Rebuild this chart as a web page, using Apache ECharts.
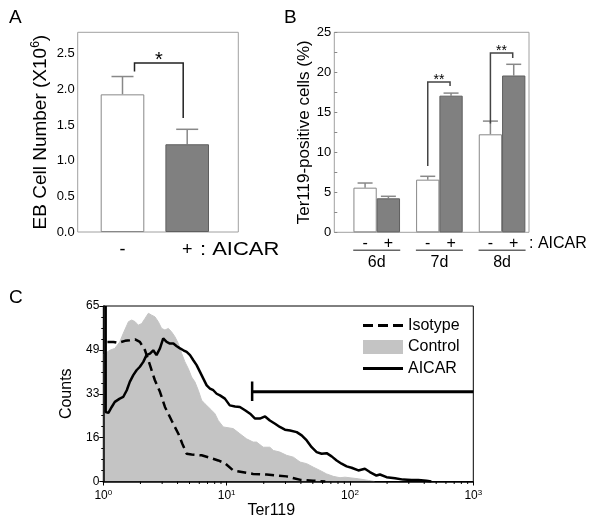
<!DOCTYPE html>
<html>
<head>
<meta charset="utf-8">
<script src="https://cdn.jsdelivr.net/npm/echarts@6/dist/echarts.min.js"></script>
<style>
html, body { margin: 0; padding: 0; background: #fff; }
#chart { width: 600px; height: 521px; }
</style>
</head>
<body>
<div id="chart"></div>
<script>
// ---- panel A: EB cell number ----
const aCats = ['-', '+'];
const aMean = [1.93, 1.23];
const aErr = [0.25, 0.21];
const aTicks = ['0.0', '0.5', '1.0', '1.5', '2.0', '2.5'];
// bracket: [left foot, top, right foot]
const aSig = [[2.25, 2.37, 1.60]];

// ---- panel B: Ter119-positive cells ----
const bDays = ['6d', '7d', '8d'];
const bCtrl = [5.58, 6.58, 12.25];
const bCtrlErr = [0.58, 0.42, 1.65];
const bAicar = [4.25, 17.08, 19.6];
const bAicarErr = [0.25, 0.32, 1.4];
// bracket: [day index, left foot, top, right foot]
const bSig = [[1, 8.3, 18.8, 18.3], [2, 13.6, 22.4, 21.8]];

// ---- panel C: flow histogram ----
const cYLabels = ['0', '16', '33', '49', '65'];
const cXTicks = [1, 10, 100, 1000];
const cXExp = ['0', '1', '2', '3'];
const cMinorTicks = [2, 3, 4, 5, 6, 7, 8, 9, 20, 30, 40, 50, 60, 70, 80, 90, 200, 300, 400, 500, 600, 700, 800, 900];
const controlX = [1.0, 1.13, 1.24, 1.36, 1.45, 1.60, 1.70, 1.81, 1.92, 2.05, 2.18, 2.32, 2.47, 2.62, 2.79, 2.97, 3.16, 3.37, 3.58, 3.81, 4.06, 4.32, 4.59, 4.89, 5.20, 5.53, 5.89, 6.27, 6.67, 7.10, 7.55, 8.04, 8.55, 9.40, 11.3, 12.8, 14.5, 16.4, 17.5, 19.8, 22.4, 23.9, 27.0, 30.6, 34.8, 39.4, 44.6, 50.5, 57.1, 64.7, 73.3, 83.0, 91.2, 117, 141, 158];
const controlY = [47, 48.6, 49.3, 51.7, 54.8, 59.2, 59.8, 59.2, 57.9, 58.5, 60.4, 62.3, 61.6, 61.0, 59.2, 56.7, 56.1, 56.7, 55.4, 53.6, 51.1, 47.4, 44.3, 41.8, 38.7, 36.9, 33.8, 30.1, 28.8, 27.6, 26.4, 25.1, 22.6, 20.2, 19.6, 17.7, 15.8, 14.6, 14.6, 12.7, 12.7, 11.5, 10.9, 9.7, 9.0, 7.2, 6.6, 5.3, 4.1, 2.8, 1.9, 1.4, 1.6, 1.0, 0.4, 0];
const isoX = [1.08, 1.21, 1.32, 1.50, 1.64, 1.81, 1.98, 2.18, 2.39, 2.62, 2.88, 3.16, 3.58, 4.06, 4.37, 4.74, 5.20, 6.27, 7.33, 8.55, 9.68, 11.3, 16.4, 21.1, 30.6, 39.8, 50.1, 63.1];
const isoY = [51.7, 51.7, 51.3, 52.1, 52.3, 52.6, 51.7, 48.6, 43.1, 37.5, 33.2, 27.6, 22.6, 17.7, 14.0, 10.3, 10.0, 9.7, 8.8, 7.8, 6.8, 4.1, 2.8, 2.6, 1.9, 0.6, 0.3, 0];
const aicarX = [1.045, 1.045, 1.10, 1.17, 1.24, 1.36, 1.45, 1.55, 1.64, 1.75, 1.86, 1.98, 2.11, 2.24, 2.39, 2.54, 2.70, 2.88, 3.06, 3.26, 3.47, 3.70, 3.94, 4.19, 4.46, 4.74, 5.05, 5.37, 5.71, 6.08, 6.47, 6.89, 7.33, 7.80, 8.30, 8.83, 9.68, 10.6, 11.7, 12.8, 14.1, 15.5, 17.0, 18.6, 20.5, 22.4, 24.7, 27.0, 29.7, 32.7, 37.0, 40.6, 44.6, 48.9, 53.7, 58.9, 64.7, 71.0, 78.0, 85.5, 94.0, 103, 117, 132, 145, 164, 175, 198, 232, 270, 316, 358, 417, 457];
const aicarY = [65, 25.7, 25.4, 27.6, 29.5, 30.7, 31.3, 33.8, 36.9, 39.4, 41.2, 42.5, 44.3, 46.8, 47.4, 48.6, 46.8, 49.3, 53.0, 51.7, 51.1, 51.1, 50.1, 49.3, 48.6, 48.0, 46.8, 44.9, 43.1, 40.6, 38.1, 35.6, 34.4, 33.8, 32.5, 31.9, 30.7, 28.2, 27.8, 27.6, 26.4, 25.1, 23.3, 23.3, 24.1, 22.6, 21.4, 20.2, 19.2, 18.9, 18.3, 17.1, 15.2, 12.7, 10.9, 10.3, 10.5, 9.3, 7.8, 6.6, 5.6, 5.1, 4.1, 4.7, 3.5, 2.2, 2.6, 1.6, 1.2, 0.7, 0.6, 0.6, 0.25, 0];
// gate marker: x range, level, end tick span
const gateX = [16.1, 1000];
const gateLevel = 33.2;
const gateTick = [29.8, 37.0];

const ff = "'Liberation Sans', Arial, sans-serif";

const chart = echarts.init(document.getElementById('chart'));

const zip = (xs, ys) => xs.map((x, i) => [x, ys[i]]);

const errorBars = (xAxisIndex, yAxisIndex, means, errs, dx, cap, z) => ({
  type: 'custom',
  xAxisIndex, yAxisIndex, z,
  silent: true,
  data: means.map((m, i) => [i, m, m + errs[i]]),
  renderItem: (params, api) => {
    const base = api.coord([api.value(0), api.value(1)]);
    const top = api.coord([api.value(0), api.value(2)]);
    const x = base[0] + dx;
    const st = { stroke: '#888', lineWidth: 1.5 };
    return {
      type: 'group',
      children: [
        { type: 'line', shape: { x1: x, y1: base[1], x2: x, y2: top[1] }, style: st },
        { type: 'line', shape: { x1: x - cap, y1: top[1], x2: x + cap, y2: top[1] }, style: st }
      ]
    };
  }
});

const option = {
  animation: false,
  textStyle: { fontFamily: ff },
  grid: [
    { left: 77.7, top: 32.3, width: 160.6, height: 199.7, show: true, borderColor: '#a0a0a0', borderWidth: 1 },
    { left: 90.15, top: 32.3, width: 129.4, height: 199.7 },
    { left: 334.3, top: 32.3, width: 194.7, height: 200, show: true, borderColor: '#a0a0a0', borderWidth: 1 },
    { left: 345.4, top: 32.3, width: 188, height: 200 },
    { left: 103.3, top: 306, width: 370, height: 175.5, show: true, borderColor: '#000', borderWidth: 1 }
  ],
  xAxis: [
    { gridIndex: 0, type: 'value', show: false, min: 0, max: 1 },
    {
      gridIndex: 1, type: 'category', data: aCats,
      axisLine: { show: false }, axisTick: { show: false },
      axisLabel: { fontSize: 18, color: '#000', margin: 9 }
    },
    { gridIndex: 2, type: 'value', show: false, min: 0, max: 1 },
    {
      gridIndex: 3, type: 'category', data: bDays,
      axisLine: { show: false }, axisTick: { show: false },
      axisLabel: {
        interval: 0, margin: 5, color: '#000',
        formatter: (v) => '{m|-}{p|+}\n{u|}\n{d|' + v + '}',
        rich: {
          m: { fontSize: 16, width: 23.3, align: 'center', lineHeight: 12 },
          p: { fontSize: 16, width: 23.3, align: 'center', lineHeight: 12 },
          u: { width: 47, height: 1.5, lineHeight: 2, backgroundColor: '#666' },
          d: { fontSize: 16, lineHeight: 22 }
        }
      }
    },
    {
      gridIndex: 4, type: 'log', logBase: 10, min: 1, max: 1000, z: 10,
      axisLine: { lineStyle: { color: '#000', width: 1.5 } },
      axisTick: { length: 4, lineStyle: { color: '#000' } },
      splitLine: { show: false },
      axisLabel: {
        margin: 7, color: '#000',
        formatter: (v) => {
          const i = cXTicks.indexOf(Math.round(v));
          return '{b|10}{s|' + (i >= 0 ? cXExp[i] : '') + '}';
        },
        rich: {
          b: { fontSize: 12, lineHeight: 14 },
          s: { fontSize: 8, lineHeight: 8, verticalAlign: 'top' }
        }
      },
      name: 'Ter119', nameLocation: 'middle', nameGap: 18,
      nameTextStyle: { fontSize: 16, color: '#000', padding: [0, 34, 0, 0] }
    }
  ],
  yAxis: [
    {
      gridIndex: 0, type: 'value', min: 0, max: 2.8, interval: 0.5,
      axisLine: { show: false }, axisTick: { show: false }, splitLine: { show: false },
      axisLabel: {
        margin: 3, fontSize: 13, color: '#000', showMaxLabel: false,
        formatter: (v) => aTicks[Math.round(v / 0.5)] || ''
      },
      name: 'EB Cell Number (X10{s|6})', nameLocation: 'middle', nameRotate: 90, nameGap: 26,
      nameTextStyle: {
        fontSize: 19, color: '#000', lineHeight: 22,
        rich: { s: { fontSize: 12, lineHeight: 12, verticalAlign: 'top' } }
      }
    },
    { gridIndex: 1, type: 'value', min: 0, max: 2.8, show: false },
    {
      gridIndex: 2, type: 'value', min: 0, max: 25, interval: 5,
      axisLine: { show: false }, splitLine: { show: false },
      axisTick: { inside: true, length: 3, lineStyle: { color: '#888' } },
      minorTick: { show: true, splitNumber: 2, length: 3, lineStyle: { color: '#888' } },
      axisLabel: { margin: 3, fontSize: 13, color: '#000' },
      name: 'Ter119-positive cells (%)', nameLocation: 'middle', nameRotate: 90, nameGap: 18,
      nameTextStyle: { fontSize: 17, color: '#000' }
    },
    { gridIndex: 3, type: 'value', min: 0, max: 25, show: false },
    {
      gridIndex: 4, type: 'value', min: 0, max: 65, interval: 16.25, z: 10,
      axisLine: { show: true, lineStyle: { color: '#000', width: 1.5 } },
      axisTick: { length: 4, lineStyle: { color: '#000' } },
      minorTick: { show: true, splitNumber: 4, length: 2, lineStyle: { color: '#000' } },
      splitLine: { show: false },
      axisLabel: {
        margin: 4, fontSize: 12, color: '#000',
        formatter: (v) => cYLabels[Math.round(v / 16.25)] || ''
      },
      name: 'Counts', nameLocation: 'middle', nameRotate: 90, nameGap: 21,
      nameTextStyle: { fontSize: 16, color: '#000' }
    }
  ],
  legend: {
    orient: 'vertical', left: 358, top: 312.5,
    itemWidth: 40, itemHeight: 14, itemGap: 5.5,
    selectedMode: false,
    textStyle: { fontSize: 16, color: '#000' },
    data: [
      { name: 'Isotype', icon: 'path://M0,0H10V3H0Z M15,0H25V3H15Z M30,0H40V3H30Z' },
      { name: 'Control', icon: 'rect' },
      { name: 'AICAR', icon: 'path://M0,0H40V3H0Z' }
    ]
  },
  graphic: [
    { type: 'text', left: 9, top: 8, style: { text: 'A', fontSize: 19, fill: '#000', fontFamily: ff } },
    { type: 'text', left: 284, top: 8, style: { text: 'B', fontSize: 19, fill: '#000', fontFamily: ff } },
    { type: 'text', left: 9, top: 288, style: { text: 'C', fontSize: 19, fill: '#000', fontFamily: ff } },
    { type: 'text', x: 200, y: 250, scaleX: 1.22, style: { text: ': AICAR', fontSize: 18, fill: '#000', fontFamily: ff, verticalAlign: 'middle' } },
    { type: 'text', x: 529, y: 243.5, style: { text: ': AICAR', fontSize: 16, fill: '#000', fontFamily: ff, verticalAlign: 'middle' } }
  ],
  series: [
    // panel A
    {
      type: 'bar', xAxisIndex: 1, yAxisIndex: 1, barWidth: 43.6, z: 2,
      data: aMean.map((v, i) => ({
        value: v,
        itemStyle: i === 0
          ? { color: '#fff', borderColor: '#888', borderWidth: 1 }
          : { color: '#808080', borderColor: '#5e5e5e', borderWidth: 1 }
      }))
    },
    errorBars(1, 1, aMean, aErr, 0, 11, 1),
    {
      type: 'custom', xAxisIndex: 1, yAxisIndex: 1, z: 4, silent: true,
      data: aSig,
      renderItem: (params, api) => {
        const l = api.coord([0, api.value(0)]);
        const t = api.coord([0, api.value(1)]);
        const r = api.coord([1, api.value(2)]);
        const x1 = l[0] + 12, x2 = r[0] - 4;
        return {
          type: 'group',
          children: [
            { type: 'polyline', shape: { points: [[x1, l[1]], [x1, t[1]], [x2, t[1]], [x2, r[1]]] }, style: { stroke: '#222', lineWidth: 1.5, fill: 'none' } },
            { type: 'text', x: (x1 + x2) / 2, y: t[1] - 12, style: { text: '*', fontSize: 20, fontFamily: ff, fill: '#000', align: 'center', verticalAlign: 'top' } }
          ]
        };
      }
    },
    // panel B
    {
      name: 'ctrlB', type: 'bar', xAxisIndex: 3, yAxisIndex: 3, barWidth: 23.3, barGap: '0%', z: 2,
      itemStyle: { color: '#fff', borderColor: '#888', borderWidth: 1 },
      data: bCtrl
    },
    {
      name: 'aicarB', type: 'bar', xAxisIndex: 3, yAxisIndex: 3, barWidth: 23.3, barGap: '0%', z: 2,
      itemStyle: { color: '#808080', borderColor: '#5e5e5e', borderWidth: 1 },
      data: bAicar
    },
    errorBars(3, 3, bCtrl, bCtrlErr, -11.65, 7.5, 1),
    errorBars(3, 3, bAicar, bAicarErr, 11.65, 7.5, 1),
    {
      type: 'custom', xAxisIndex: 3, yAxisIndex: 3, z: 4, silent: true,
      data: bSig,
      renderItem: (params, api) => {
        const c = api.value(0);
        const l = api.coord([c, api.value(1)]);
        const t = api.coord([c, api.value(2)]);
        const r = api.coord([c, api.value(3)]);
        const x1 = l[0] - 11.65, x2 = r[0] + 10.65;
        return {
          type: 'group',
          children: [
            { type: 'polyline', shape: { points: [[x1, l[1]], [x1, t[1]], [x2, t[1]], [x2, r[1]]] }, style: { stroke: '#444', lineWidth: 1.5, fill: 'none' } },
            { type: 'text', x: (x1 + x2) / 2, y: t[1] - 9, style: { text: '**', fontSize: 14, fontFamily: ff, fill: '#000', align: 'center', verticalAlign: 'top' } }
          ]
        };
      }
    },
    // panel C
    {
      name: 'Control', type: 'line', xAxisIndex: 4, yAxisIndex: 4, z: 2,
      symbol: 'none', color: '#c4c4c4',
      lineStyle: { width: 1, color: '#c4c4c4' },
      areaStyle: { color: '#c4c4c4', opacity: 1 },
      data: zip(controlX, controlY)
    },
    {
      name: 'Isotype', type: 'line', xAxisIndex: 4, yAxisIndex: 4, z: 3,
      symbol: 'none', color: '#000',
      lineStyle: { width: 2.5, color: '#000', type: [9, 5] },
      data: zip(isoX, isoY)
    },
    {
      name: 'AICAR', type: 'line', xAxisIndex: 4, yAxisIndex: 4, z: 4,
      symbol: 'none', color: '#000',
      lineStyle: { width: 2.5, color: '#000' },
      data: zip(aicarX, aicarY)
    },
    {
      name: 'gate', type: 'line', xAxisIndex: 4, yAxisIndex: 4, z: 4,
      symbol: 'none', lineStyle: { width: 3, color: '#000' },
      data: gateX.map((x) => [x, gateLevel])
    },
    {
      name: 'gateEnd', type: 'line', xAxisIndex: 4, yAxisIndex: 4, z: 4,
      symbol: 'none', lineStyle: { width: 2.5, color: '#000' },
      data: gateTick.map((y) => [gateX[0], y])
    },
    {
      type: 'custom', xAxisIndex: 4, yAxisIndex: 4, z: 10, silent: true, clip: false,
      data: cMinorTicks.map((x) => [x, 0]),
      renderItem: (params, api) => {
        const p = api.coord([api.value(0), 0]);
        return { type: 'line', shape: { x1: p[0], y1: p[1], x2: p[0], y2: p[1] + 2.5 }, style: { stroke: '#000', lineWidth: 1 } };
      }
    }
  ]
};

chart.setOption(option);
</script>
</body>
</html>
